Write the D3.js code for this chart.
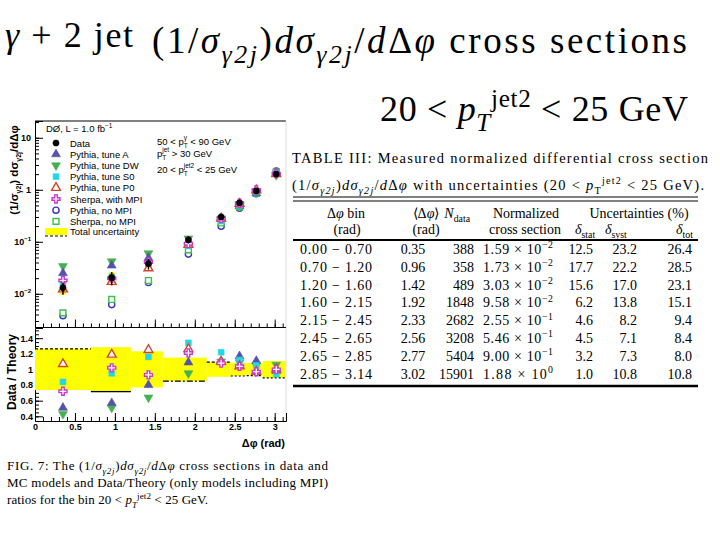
<!DOCTYPE html>
<meta charset="utf-8">
<style>
  body { margin: 0; background: #fff; }
  text { font-family: "Liberation Sans", Arial, sans-serif; }
  .tick text { font-weight: bold; font-size: 9px; }
</style>
<svg width="720" height="540"></svg>
<script src="https://d3js.org/d3.v7.min.js"></script>
<script>
// bins of delta phi
var binEdges = [0, 0.70, 1.20, 1.60, 2.15, 2.45, 2.65, 2.85, 3.14];
var binCenters = [0.35, 0.96, 1.42, 1.92, 2.33, 2.56, 2.77, 3.02];

// top panel
var dataXs = [0.013, 0.0204, 0.038, 0.109, 0.30, 0.56, 0.95, 2.0];
var pyA    = [0.025, 0.035, 0.049, 0.102, 0.28, 0.49, 0.86, 2.1];
var pyDW   = [0.034, 0.042, 0.060, 0.116, 0.28, 0.51, 0.91, 1.92];
var pyS0   = [0.016, 0.021, 0.034, 0.083, 0.25, 0.50, 0.91, 2.15];
var pyP0   = [0.0122, 0.017, 0.031, 0.088, 0.28, 0.54, 0.98, 2.0];
var shMPI  = [0.018, 0.020, 0.041, 0.092, 0.28, 0.55, 0.99, 2.04];
var pyNo   = [0.0038, 0.0062, 0.0165, 0.058, 0.20, 0.44, 0.84, 2.3];
var shNo   = [0.0043, 0.0078, 0.018, 0.070, 0.23, 0.47, 0.85, 2.2];

// bottom panel: data / theory
var rA   = [0.51, 0.57, 0.80, 1.09, 1.10, 1.17, 1.11, 0.98];
var rDW  = [0.43, 0.51, 0.64, 0.95, 1.10, 1.09, 1.05, 1.06];
var rS0  = [0.84, 0.95, 1.16, 1.34, 1.22, 1.12, 1.05, 0.94];
var rP0  = [1.07, 1.19, 1.25, 1.26, 1.10, 1.04, 0.97, 1.00];
var rShM = [0.72, 1.02, 0.93, 1.21, 1.08, 1.04, 0.97, 1.00];

// table
var binLabels = ["0.00 \u2212 0.70", "0.70 \u2212 1.20", "1.20 \u2212 1.60", "1.60 \u2212 2.15",
                 "2.15 \u2212 2.45", "2.45 \u2212 2.65", "2.65 \u2212 2.85", "2.85 \u2212 3.14"];
var meanDphi = ["0.35", "0.96", "1.42", "1.92", "2.33", "2.56", "2.77", "3.02"];
var nData = ["388", "358", "489", "1848", "2682", "3208", "5404", "15901"];
var xsMant = ["1.59", "1.73", "3.03", "9.58", "2.55", "5.46", "9.00", "1.88"];
var xsExp = ["\u22122", "\u22122", "\u22122", "\u22122", "\u22121", "\u22121", "\u22121", "0"];
var dStat = ["12.5", "17.7", "15.6", "6.2", "4.6", "4.5", "3.2", "1.0"];
var dSyst = ["23.2", "22.2", "17.0", "13.8", "8.2", "7.1", "7.3", "10.8"];
var dTot = [26.4, 28.5, 23.1, 15.1, 9.4, 8.4, 8.0, 10.8];

var svg = d3.select("svg");
var SERIF = "'Liberation Serif', 'Times New Roman', serif";

// text with sub/superscripts; parts = [text, kind]
function rich(g, x, y, parts, size, fam) {
  var t = g.append("text").attr("x", x).attr("y", y).style("font-size", size + "px");
  if (fam) t.style("font-family", fam);
  var shift = 0;
  parts.forEach(function(p) {
    if (typeof p === "string") p = [p, ""];
    var k = p[1], target = 0, fs = size;
    if (k.indexOf("sub") >= 0) { target = size * 0.28; fs = size * 0.7; }
    if (k.indexOf("sup") >= 0) { target = -size * 0.4; fs = size * 0.7; }
    var ts = t.append("tspan").attr("dy", target - shift).style("font-size", fs + "px").text(p[0]);
    if (k.indexOf("i") === 0 || k.indexOf("-i") >= 0) ts.style("font-style", "italic");
    shift = target;
  });
  return t;
}

// ---------- slide titles ----------
var titles = svg.append("g");
rich(titles, 5, 47, [["\u03b3", "i"], " + 2 jet"], 36, SERIF).attr("textLength", 128);
rich(titles, 152, 53, ["(1/", ["\u03c3", "i"], ["\u03b32j", "sub-i"], ")", ["d\u03c3", "i"],
  ["\u03b32j", "sub-i"], "/", ["d", "i"], "\u0394", ["\u03c6", "i"], " cross sections"], 37, SERIF).attr("textLength", 535);
rich(titles, 380, 121, ["20 < ", ["p", "i"], ["T", "sub-i"], ["jet2", "sup"], " < 25 GeV"], 36, SERIF).attr("textLength", 308);

// ---------- plot ----------
var x = d3.scaleLinear().domain([0, Math.PI]).range([35, 286]);
var yTop = d3.scaleLog().domain([0.0023, 21]).range([327, 121]);
var yBot = d3.scaleLinear().domain([0.34, 1.53]).range([421, 328]);

var plot = svg.append("g");

// frames
plot.append("line").attr("x1", 35).attr("x2", 286).attr("y1", 121).attr("y2", 121).attr("stroke", "#000");
plot.append("line").attr("x1", 286).attr("x2", 286).attr("y1", 121).attr("y2", 421).attr("stroke", "#ddd");
plot.append("line").attr("x1", 35).attr("x2", 286).attr("y1", 327.5).attr("y2", 327.5).attr("stroke", "#000");

// axes, top panel
var majorLog = [0.01, 0.1, 1, 10];
plot.append("g").attr("transform", "translate(35,0)")
  .call(d3.axisLeft(yTop).tickValues(yTop.ticks()).tickSize(-4).tickFormat(""))
  .call(function(g) { g.select(".domain").remove(); });
plot.append("g").attr("transform", "translate(35,0)")
  .call(d3.axisLeft(yTop).tickValues(majorLog).tickSize(-8).tickFormat(""))
  .call(function(g) { g.select(".domain").attr("stroke", "#000"); });
var lbl = [["10", ""], ["1", ""], ["10", "\u22121"], ["10", "\u22122"]];
[10, 1, 0.1, 0.01].forEach(function(v, i) {
  var t = plot.append("text").attr("x", 31).attr("y", yTop(v) + 3).attr("text-anchor", "end")
    .style("font-size", "9px").style("font-weight", "bold");
  t.append("tspan").text(lbl[i][0]);
  if (lbl[i][1]) t.append("tspan").attr("dy", -4).style("font-size", "6px").text(lbl[i][1]);
});
// x ticks on top panel bottom edge
plot.append("g").attr("transform", "translate(0,327.5)")
  .call(d3.axisBottom(x).tickValues(d3.range(0, 3.15, 0.1)).tickSize(-4).tickFormat(""))
  .call(function(g) { g.select(".domain").remove(); });
plot.append("g").attr("transform", "translate(0,327.5)")
  .call(d3.axisBottom(x).tickValues(d3.range(0, 3.1, 0.5)).tickSize(-8).tickFormat(""))
  .call(function(g) { g.select(".domain").remove(); });

// axes, bottom panel
plot.append("g").attr("transform", "translate(35,0)")
  .call(d3.axisLeft(yBot).tickValues(d3.range(0.4, 1.51, 0.05)).tickSize(-4).tickFormat(""))
  .call(function(g) { g.select(".domain").remove(); });
plot.append("g").attr("transform", "translate(35,0)")
  .call(d3.axisLeft(yBot).tickValues([0.4, 0.6, 0.8, 1, 1.2, 1.4]).tickSize(-8).tickPadding(2)
    .tickFormat(function(d) { return d === 1 ? "1" : d3.format(".1f")(d); }))
  .call(function(g) { g.select(".domain").attr("stroke", "#000"); });
plot.append("g").attr("transform", "translate(0,421)")
  .call(d3.axisBottom(x).tickValues(d3.range(0, 3.15, 0.1)).tickSize(-4).tickFormat(""))
  .call(function(g) { g.select(".domain").remove(); });
plot.append("g").attr("transform", "translate(0,421)")
  .call(d3.axisBottom(x).tickValues(d3.range(0, 3.1, 0.5)).tickSize(-8).tickPadding(4)
    .tickFormat(function(d) { return d3.format("")(d); }))
  .call(function(g) { g.select(".domain").attr("stroke", "#000"); g.selectAll(".tick text").attr("dy", "0.5em"); });

plot.append("text").attr("x", 285).attr("y", 447).attr("text-anchor", "end")
  .style("font-size", "11px").style("font-weight", "bold").text("\u0394\u03c6 (rad)");

// y titles
var yt = plot.append("text").attr("transform", "translate(18,170) rotate(-90)").attr("text-anchor", "middle")
  .style("font-size", "11.5px").style("font-weight", "bold");
yt.append("tspan").text("(1/\u03c3");
yt.append("tspan").attr("dy", 3).style("font-size", "7px").text("\u03b32j");
yt.append("tspan").attr("dy", -3).text(") d\u03c3");
yt.append("tspan").attr("dy", 3).style("font-size", "7px").text("\u03b32j");
yt.append("tspan").attr("dy", -3).text("/d\u0394\u03c6");
plot.append("text").attr("transform", "translate(16,372) rotate(-90)").attr("text-anchor", "middle")
  .style("font-size", "12px").style("font-weight", "bold").text("Data / Theory");

// uncertainty band, bottom panel
var band = plot.append("g");
binCenters.forEach(function(c, i) {
  var lo = 1 - dTot[i] / 100, hi = 1 + dTot[i] / 100;
  band.append("rect").attr("x", x(binEdges[i])).attr("width", x(binEdges[i + 1]) - x(binEdges[i]))
    .attr("y", yBot(hi)).attr("height", yBot(lo) - yBot(hi)).attr("fill", "#ffff00");
});
// dashed band outline where visible
[[0, "hi", "3,2"], [1, "lo", null], [3, "lo", "6,2,2,2"], [4, "hi", "3,2"], [5, "lo", "2,2"], [6, "lo", "2,2"], [7, "lo", "2,2"]]
  .forEach(function(s) {
    var i = s[0], v = s[1] === "hi" ? 1 + dTot[i] / 100 : 1 - dTot[i] / 100;
    band.append("line").attr("x1", x(binEdges[i])).attr("x2", x(binEdges[i + 1]))
      .attr("y1", yBot(v)).attr("y2", yBot(v)).attr("stroke", "#000").attr("stroke-width", 1.2)
      .attr("stroke-dasharray", s[2]);
  });

// markers
var mk = {
  data: { fill: "#000", stroke: "#000", sym: d3.symbolCircle },
  A:    { fill: "#5353a8", stroke: "#5353a8", sym: d3.symbolTriangle },
  DW:   { fill: "#45b050", stroke: "#45b050", sym: "down" },
  S0:   { fill: "#22d8e8", stroke: "#22d8e8", sym: d3.symbolSquare },
  P0:   { fill: "#fff", stroke: "#d2452a", sym: d3.symbolTriangle, open: true },
  ShM:  { fill: "#fff", stroke: "#c83cd2", sym: "cross", open: true },
  PyN:  { fill: "#fff", stroke: "#3636c8", sym: d3.symbolCircle, open: true },
  ShN:  { fill: "#fff", stroke: "#3cc048", sym: d3.symbolSquare, open: true }
};
function marker(g, key, cx, cy) {
  var m = mk[key], p;
  if (m.sym === "down") {
    p = g.append("path").attr("d", d3.symbol(d3.symbolTriangle, 34)()).attr("transform", "translate(" + cx + "," + cy + ") rotate(180)");
  } else if (m.sym === "cross") {
    p = g.append("path").attr("d", "M-1.3,-4H1.3V-1.3H4V1.3H1.3V4H-1.3V1.3H-4V-1.3H-1.3Z").attr("transform", "translate(" + cx + "," + cy + ")");
  } else {
    p = g.append("path").attr("d", d3.symbol(m.sym, m.sym === d3.symbolCircle ? 30 : 34)()).attr("transform", "translate(" + cx + "," + cy + ")");
  }
  p.attr("fill", m.fill).attr("stroke", m.stroke).attr("stroke-width", m.open ? 1.4 : 0.6);
}

var pts = plot.append("g");
binCenters.forEach(function(c, i) {
  var cx = x(c);
  // data uncertainty box + error bar
  var lo = dataXs[i] * (1 - dTot[i] / 100), hi = dataXs[i] * (1 + dTot[i] / 100);
  pts.append("rect").attr("x", cx - 3).attr("width", 6).attr("y", yTop(hi)).attr("height", yTop(lo) - yTop(hi)).attr("fill", "#ffff00");
  marker(pts, "PyN", cx, yTop(pyNo[i]));
  marker(pts, "ShN", cx, yTop(shNo[i]));
  marker(pts, "DW", cx, yTop(pyDW[i]));
  marker(pts, "A", cx, yTop(pyA[i]));
  marker(pts, "S0", cx, yTop(pyS0[i]));
  marker(pts, "P0", cx, yTop(pyP0[i]));
  marker(pts, "ShM", cx, yTop(shMPI[i]));
  pts.append("line").attr("x1", cx).attr("x2", cx).attr("y1", yTop(hi)).attr("y2", yTop(lo)).attr("stroke", "#000").attr("stroke-width", 1.5);
  marker(pts, "data", cx, yTop(dataXs[i]));

  marker(pts, "DW", cx, yBot(rDW[i]));
  marker(pts, "A", cx, yBot(rA[i]));
  marker(pts, "S0", cx, yBot(rS0[i]));
  marker(pts, "P0", cx, yBot(rP0[i]));
  marker(pts, "ShM", cx, yBot(rShM[i]));
});

// legend
var leg = plot.append("g").style("font-size", "9.5px");
var legNames = ["Data", "Pythia, tune A", "Pythia, tune DW", "Pythia, tune S0", "Pythia, tune P0",
                "Sherpa, with MPI", "Pythia, no MPI", "Sherpa, no MPI"];
var legKeys = ["data", "A", "DW", "S0", "P0", "ShM", "PyN", "ShN"];
var dz = leg.append("text").attr("x", 46).attr("y", 132);
dz.append("tspan").text("D\u00d8, L = 1.0 fb");
dz.append("tspan").attr("dy", -4).style("font-size", "6.5px").text("\u22121");
legNames.forEach(function(n, i) {
  var cy = 143 + i * 11.2;
  marker(leg, legKeys[i], 56, cy);
  leg.append("text").attr("x", 70).attr("y", cy + 3.5).text(n);
});
leg.append("rect").attr("x", 45).attr("y", 228).attr("width", 22).attr("height", 7).attr("fill", "#ffff00");
leg.append("line").attr("x1", 45).attr("x2", 67).attr("y1", 236).attr("y2", 236).attr("stroke", "#000").attr("stroke-dasharray", "3,2");
leg.append("text").attr("x", 70).attr("y", 235).text("Total uncertainty");

// cuts: p with stacked sub T and superscript label
var cuts = plot.append("g").style("font-size", "9.5px");
function cut(y, pre, sup, post) {
  var t = cuts.append("text").attr("x", 157).attr("y", y);
  t.append("tspan").text(pre + "p");
  var s = t.append("tspan").attr("dy", -5).style("font-size", "6.5px").text(sup);
  var w = s.node().getComputedTextLength();
  t.append("tspan").attr("dx", -w).attr("dy", 8).style("font-size", "6.5px").text("T");
  var pad = Math.max(0, w - 4);
  t.append("tspan").attr("dx", pad).attr("dy", -3).text(post);
}
cut(145, "50 < ", "\u03b3", " < 90 GeV");
cut(157, "", "jet", " > 30 GeV");
cut(173, "20 < ", "jet2", " < 25 GeV");

// ---------- figure caption ----------
var cap = svg.append("g");
rich(cap, 7, 470, ["FIG. 7: The (1/", ["\u03c3", "i"], ["\u03b32j", "sub-i"], ")", ["d\u03c3", "i"], ["\u03b32j", "sub-i"],
  "/", ["d", "i"], "\u0394", ["\u03c6", "i"], " cross sections in data and"], 13, SERIF).attr("textLength", 321);
rich(cap, 7, 487, ["MC models and Data/Theory (only models including MPI)"], 13, SERIF).attr("textLength", 321);
rich(cap, 7, 504, ["ratios for the bin 20 < ", ["p", "i"], ["T", "sub-i"], ["jet2", "sup"], " < 25 GeV."], 13, SERIF).attr("textLength", 201);

// ---------- table ----------
var tb = svg.append("g");
rich(tb, 292, 163, ["TABLE III: Measured normalized differential cross section"], 14.5, SERIF).attr("textLength", 416);
rich(tb, 292, 190, ["(1/", ["\u03c3", "i"], ["\u03b32j", "sub-i"], ")", ["d\u03c3", "i"], ["\u03b32j", "sub-i"], "/", ["d", "i"], "\u0394", ["\u03c6", "i"],
  " with uncertainties (20 < ", ["p", "i"], ["T", "sub"], ["jet2", "sup"], " < 25 GeV)."], 14.5, SERIF).attr("textLength", 412);
[197, 201].forEach(function(y) {
  tb.append("line").attr("x1", 293).attr("x2", 698).attr("y1", y).attr("y2", y).attr("stroke", "#000").attr("stroke-width", 1);
});
tb.append("line").attr("x1", 293).attr("x2", 698).attr("y1", 240).attr("y2", 240).attr("stroke", "#000").attr("stroke-width", 2);
tb.append("line").attr("x1", 293).attr("x2", 698).attr("y1", 386).attr("y2", 386).attr("stroke", "#000").attr("stroke-width", 2.5);

function cell(g, x, y, parts, anchor) {
  return rich(g, x, y, parts, 14, SERIF).attr("text-anchor", anchor || "start");
}
cell(tb, 346, 218, ["\u0394", ["\u03c6", "i"], " bin"], "middle");
cell(tb, 426, 218, ["\u27e8\u0394", ["\u03c6", "i"], "\u27e9"], "middle");
cell(tb, 470, 218, [["N", "i"], ["data", "sub"]], "end");
cell(tb, 526, 218, ["Normalized"], "middle");
cell(tb, 639, 218, ["Uncertainties (%)"], "middle");
cell(tb, 347, 234, ["(rad)"], "middle");
cell(tb, 426, 234, ["(rad)"], "middle");
cell(tb, 525, 234, ["cross section"], "middle");
cell(tb, 575, 234, [["\u03b4", "i"], ["stat", "sub"]]);
cell(tb, 605, 234, [["\u03b4", "i"], ["syst", "sub"]]);
cell(tb, 676, 234, [["\u03b4", "i"], ["tot", "sub"]]);

binLabels.forEach(function(b, i) {
  var y = 254 + i * 17.8;
  cell(tb, 336, y, [b], "middle").attr("textLength", 72);
  cell(tb, 413, y, [meanDphi[i]], "middle");
  cell(tb, 474, y, [nData[i]], "end");
  cell(tb, 483, y, [xsMant[i] + " \u00d7 10", [xsExp[i], "sup"]]).attr("textLength", 70);
  cell(tb, 593, y, [dStat[i]], "end");
  cell(tb, 637, y, [dSyst[i]], "end");
  cell(tb, 692, y, [d3.format(".1f")(dTot[i])], "end");
});
</script>
